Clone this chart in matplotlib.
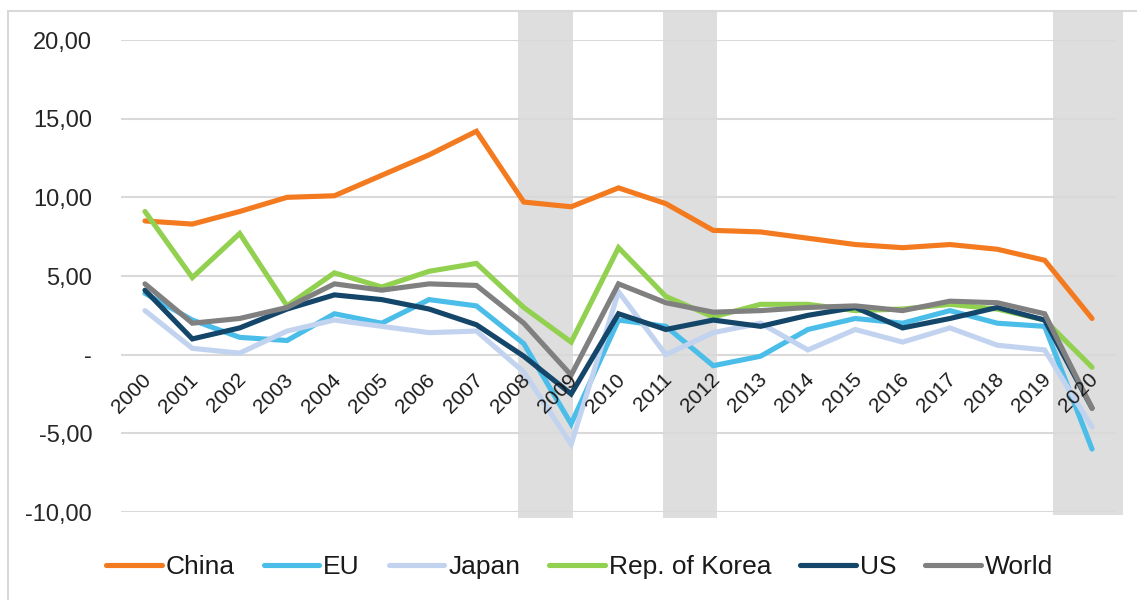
import matplotlib
matplotlib.use('Agg')
import matplotlib.pyplot as plt
from matplotlib.patches import Rectangle
from matplotlib.ticker import FixedLocator, FuncFormatter

plt.rcParams['font.family'] = ['Liberation Sans', 'DejaVu Sans']

years = list(range(2000, 2021))
china = [8.5, 8.3, 9.1, 10.0, 10.1, 11.4, 12.7, 14.2, 9.7, 9.4, 10.6, 9.6, 7.9, 7.8, 7.4, 7.0, 6.8, 7.0, 6.7, 6.0, 2.3]
eu = [3.9, 2.2, 1.1, 0.9, 2.6, 2.0, 3.5, 3.1, 0.7, -4.4, 2.2, 1.8, -0.7, -0.1, 1.6, 2.3, 2.0, 2.8, 2.0, 1.8, -6.0]
japan = [2.8, 0.4, 0.1, 1.5, 2.2, 1.8, 1.4, 1.5, -1.1, -5.7, 4.0, 0.0, 1.4, 2.0, 0.3, 1.6, 0.8, 1.7, 0.6, 0.3, -4.6]
korea = [9.1, 4.9, 7.7, 3.1, 5.2, 4.3, 5.3, 5.8, 3.0, 0.8, 6.8, 3.7, 2.4, 3.2, 3.2, 2.8, 2.9, 3.2, 2.9, 2.2, -0.8]
us = [4.1, 1.0, 1.7, 2.9, 3.8, 3.5, 2.9, 1.9, -0.1, -2.5, 2.6, 1.6, 2.2, 1.8, 2.5, 3.0, 1.7, 2.3, 3.0, 2.2, -3.4]
world = [4.5, 2.0, 2.3, 3.0, 4.5, 4.1, 4.5, 4.4, 2.0, -1.3, 4.5, 3.3, 2.7, 2.8, 3.0, 3.1, 2.8, 3.4, 3.3, 2.6, -3.4]

series = [
    ('China', china, '#F47A20'),
    ('EU', eu, '#4BBDE9'),
    ('Japan', japan, '#C2D3F0'),
    ('Rep. of Korea', korea, '#92D050'),
    ('US', us, '#14466A'),
    ('World', world, '#808080'),
]

# shaded periods (start, end) in category index units, plus bottom edge
bands = [(7.87, 9.04, -10.4), (10.94, 12.08, -10.4), (19.18, 20.65, -10.17)]

fig = plt.figure(figsize=(11.37, 6.0), dpi=100)
ax = fig.add_axes([121.3 / 1137, 1 - 512 / 600, (1115.7 - 121.3) / 1137, (512 - 40) / 600])

# outer chart frame
fig.patches.append(Rectangle((7.5 / 1137, -0.1), 1.2, 1.1 - 10.5 / 600, transform=fig.transFigure,
                             fill=False, edgecolor='#D9D9D9', linewidth=1.5))

x = list(range(len(years)))
for start, end, bottom in bands:
    ax.add_patch(Rectangle((start, bottom), end - start, 21.9 - bottom, facecolor='#DEDEDE',
                           edgecolor='none', zorder=0, clip_on=False))

for name, vals, color in series:
    ax.plot(x, vals, color=color, linewidth=3.7, label=name, solid_joinstyle='miter',
            solid_capstyle='round', zorder=3)

ax.set_xlim(-0.5, len(years) - 0.5)
ax.set_ylim(-10, 20)
ax.yaxis.set_major_locator(FixedLocator([-10, -5, 0, 5, 10, 15, 20]))


def fmt(v, pos):
    if v == 0:
        return '-'
    return ('%.2f' % v).replace('.', ',')


ax.yaxis.set_major_formatter(FuncFormatter(fmt))
ax.grid(axis='y', color='#D9D9D9', linewidth=1.5, zorder=1)
ax.set_axisbelow(True)
ax.tick_params(axis='y', length=0, pad=21, labelsize=17, labelcolor='#262626')
ax.set_xticks([])
for s in ax.spines.values():
    s.set_visible(False)
ax.patch.set_alpha(0)

# year labels sit under the zero line
for i, yr in enumerate(years):
    ax.annotate(str(yr), xy=(i, 0), xytext=(-2.5, -11), textcoords='offset points',
                rotation=45, rotation_mode='anchor', ha='right', va='top',
                fontsize=15, color='#1a1a1a', zorder=4)

leg = fig.legend(loc='center', bbox_to_anchor=(0.5097, 0.055), ncol=6, frameon=False,
                 fontsize=19, handlelength=2.1, handletextpad=0.15, columnspacing=1.1)
for h in leg.get_lines():
    h.set_linewidth(3.7)
    h.set_solid_capstyle('round')
for t in leg.get_texts():
    t.set_color('#1a1a1a')

fig.savefig('out.png', dpi=100)
